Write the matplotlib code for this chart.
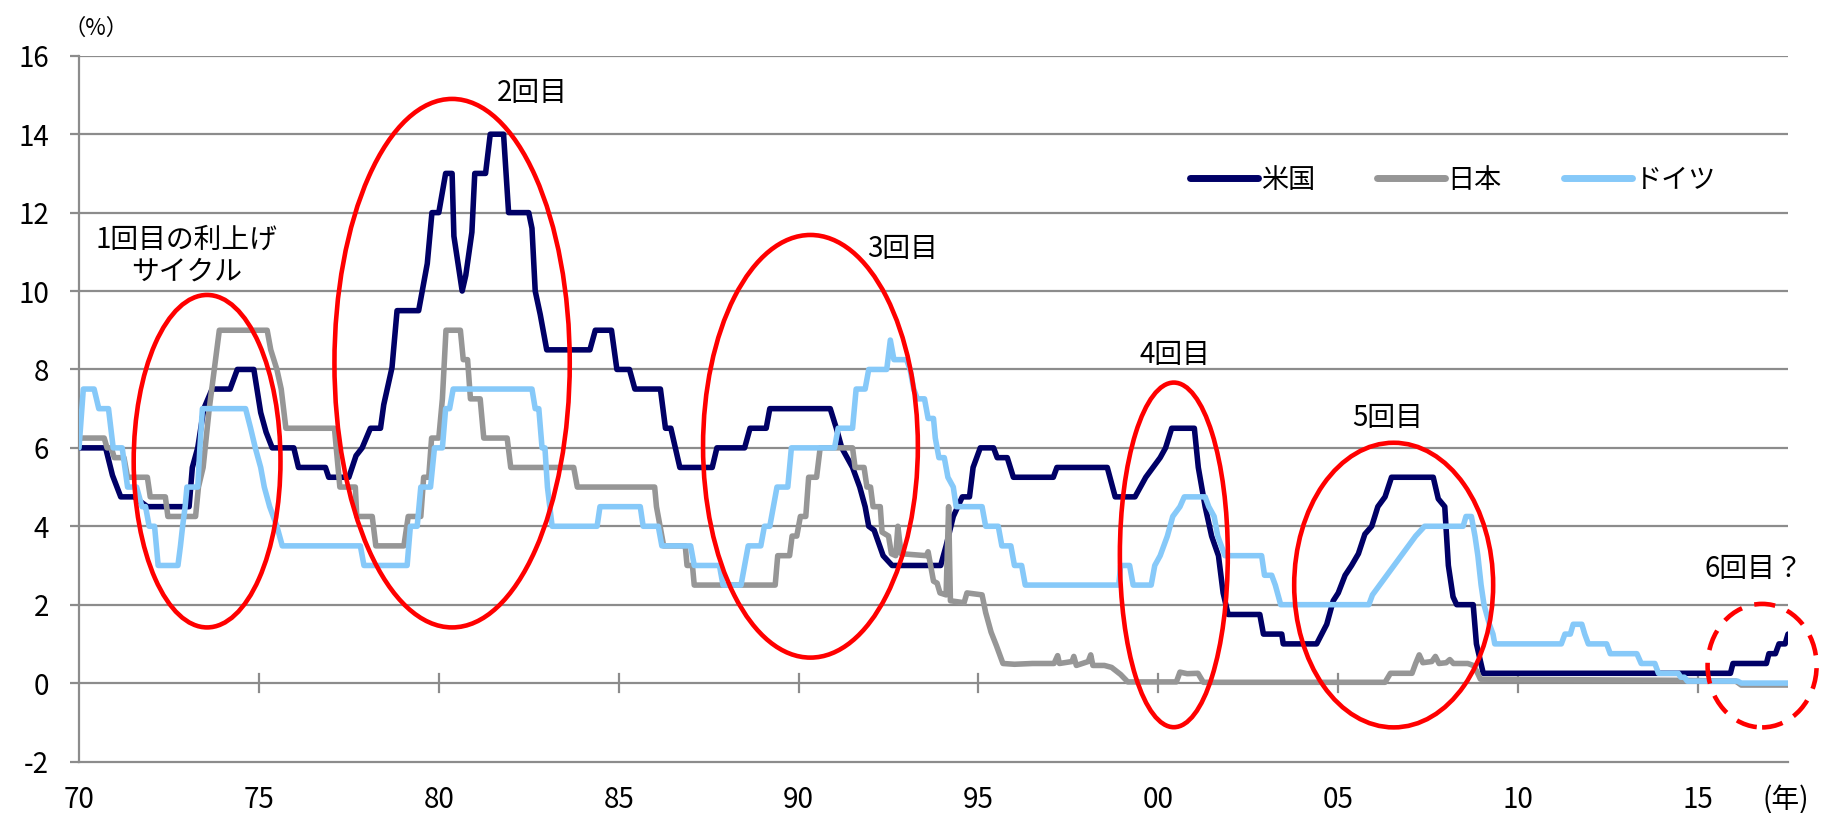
import matplotlib
matplotlib.use("Agg")
import matplotlib.pyplot as plt
from matplotlib.patches import Ellipse
from matplotlib.lines import Line2D

plt.rcParams["font.family"] = ["Noto Sans CJK JP", "DejaVu Sans"]

# policy rates (%), turning points of each series as (year, rate)
us_points = [
    (1970.00, 6.00), (1970.74, 6.00), (1970.93, 5.30), (1971.16, 4.75), (1971.53, 4.75),
    (1971.90, 4.50), (1973.06, 4.50), (1973.15, 5.50), (1973.30, 6.00), (1973.47, 7.00),
    (1973.70, 7.50), (1974.20, 7.50), (1974.40, 8.00), (1974.86, 8.00), (1975.05, 6.90),
    (1975.20, 6.40), (1975.37, 6.00), (1975.97, 6.00), (1976.10, 5.50), (1976.85, 5.50),
    (1976.94, 5.25), (1977.50, 5.25), (1977.70, 5.80), (1977.87, 6.00), (1978.10, 6.50),
    (1978.38, 6.50), (1978.47, 7.10), (1978.70, 8.05), (1978.84, 9.50), (1979.44, 9.50),
    (1979.68, 10.70), (1979.81, 12.00), (1980.00, 12.00), (1980.19, 13.00), (1980.37, 13.00),
    (1980.42, 11.40), (1980.65, 10.00), (1980.75, 10.40), (1980.92, 11.50), (1981.00, 13.00),
    (1981.30, 13.00), (1981.43, 14.00), (1981.80, 14.00), (1981.94, 12.00), (1982.50, 12.00),
    (1982.59, 11.60), (1982.68, 10.00), (1982.82, 9.40), (1983.00, 8.50), (1984.20, 8.50),
    (1984.35, 9.00), (1984.80, 9.00), (1984.95, 8.00), (1985.30, 8.00), (1985.45, 7.50),
    (1986.16, 7.50), (1986.30, 6.50), (1986.45, 6.50), (1986.70, 5.50), (1987.60, 5.50),
    (1987.73, 6.00), (1988.50, 6.00), (1988.65, 6.50), (1989.10, 6.50), (1989.20, 7.00),
    (1990.88, 7.00), (1991.05, 6.50), (1991.20, 6.00), (1991.35, 5.75), (1991.50, 5.50),
    (1991.70, 5.00), (1991.85, 4.50), (1991.95, 4.00), (1992.10, 3.90), (1992.35, 3.25),
    (1992.60, 3.00), (1993.95, 3.00), (1994.10, 3.50), (1994.30, 4.25), (1994.55, 4.75),
    (1994.75, 4.75), (1994.85, 5.50), (1995.05, 6.00), (1995.42, 6.00), (1995.52, 5.75),
    (1995.80, 5.75), (1995.97, 5.25), (1997.08, 5.25), (1997.18, 5.50), (1998.58, 5.50),
    (1998.80, 4.75), (1999.35, 4.75), (1999.50, 5.00), (1999.65, 5.25), (1999.85, 5.50),
    (2000.05, 5.75), (2000.20, 6.00), (2000.37, 6.50), (2001.00, 6.50), (2001.11, 5.50),
    (2001.30, 4.50), (2001.48, 3.75), (2001.67, 3.25), (2001.80, 2.30), (2001.94, 1.75),
    (2002.82, 1.75), (2002.92, 1.25), (2003.43, 1.25), (2003.47, 1.00), (2004.40, 1.00),
    (2004.54, 1.25), (2004.68, 1.50), (2004.86, 2.10), (2005.00, 2.30), (2005.19, 2.75),
    (2005.37, 3.00), (2005.56, 3.30), (2005.74, 3.80), (2005.93, 4.00), (2006.10, 4.50),
    (2006.30, 4.75), (2006.48, 5.25), (2007.64, 5.25), (2007.78, 4.70), (2007.96, 4.50),
    (2008.06, 3.00), (2008.19, 2.20), (2008.29, 2.00), (2008.75, 2.00), (2008.84, 1.00),
    (2009.03, 0.25), (2015.90, 0.25), (2015.97, 0.50), (2016.90, 0.50), (2016.97, 0.75),
    (2017.15, 0.75), (2017.25, 1.00), (2017.42, 1.00), (2017.50, 1.25),
]

jp_points = [
    (1970.00, 6.25), (1970.70, 6.25), (1970.78, 6.00), (1970.90, 6.00), (1970.98, 5.75),
    (1971.25, 5.75), (1971.35, 5.25), (1971.90, 5.25), (1971.98, 4.75), (1972.40, 4.75),
    (1972.47, 4.25), (1973.24, 4.25), (1973.32, 5.00), (1973.45, 5.50), (1973.62, 7.00),
    (1973.90, 9.00), (1975.23, 9.00), (1975.33, 8.50), (1975.50, 8.00), (1975.62, 7.50),
    (1975.75, 6.50), (1977.10, 6.50), (1977.25, 5.00), (1977.68, 5.00), (1977.72, 4.25),
    (1978.15, 4.25), (1978.25, 3.50), (1979.03, 3.50), (1979.15, 4.25), (1979.50, 4.25),
    (1979.58, 5.25), (1979.72, 5.25), (1979.80, 6.25), (1980.00, 6.25), (1980.10, 7.25),
    (1980.20, 9.00), (1980.60, 9.00), (1980.68, 8.25), (1980.80, 8.25), (1980.88, 7.25),
    (1981.15, 7.25), (1981.25, 6.25), (1981.90, 6.25), (1982.00, 5.50), (1983.75, 5.50),
    (1983.85, 5.00), (1986.00, 5.00), (1986.05, 4.50), (1986.15, 4.00), (1986.25, 3.50),
    (1986.85, 3.50), (1986.90, 3.00), (1987.05, 3.00), (1987.10, 2.50), (1989.35, 2.50),
    (1989.42, 3.25), (1989.75, 3.25), (1989.82, 3.75), (1989.95, 3.75), (1990.05, 4.25),
    (1990.20, 4.25), (1990.28, 5.25), (1990.50, 5.25), (1990.60, 6.00), (1991.50, 6.00),
    (1991.57, 5.50), (1991.82, 5.50), (1991.90, 5.00), (1992.00, 5.00), (1992.07, 4.50),
    (1992.27, 4.50), (1992.32, 3.85), (1992.50, 3.75), (1992.58, 3.30), (1992.70, 3.25),
    (1992.76, 4.00), (1992.85, 3.30), (1993.55, 3.25), (1993.60, 3.35), (1993.65, 3.10),
    (1993.75, 2.60), (1993.85, 2.55), (1993.93, 2.30), (1994.10, 2.25), (1994.17, 4.50),
    (1994.22, 2.10), (1994.60, 2.05), (1994.68, 2.30), (1995.10, 2.25), (1995.20, 1.80),
    (1995.35, 1.30), (1995.50, 0.95), (1995.68, 0.50), (1996.00, 0.48), (1996.50, 0.50),
    (1997.10, 0.50), (1997.20, 0.70), (1997.25, 0.50), (1997.60, 0.55), (1997.65, 0.68),
    (1997.72, 0.45), (1998.05, 0.55), (1998.12, 0.72), (1998.18, 0.45), (1998.50, 0.45),
    (1998.70, 0.40), (1998.95, 0.22), (1999.15, 0.03), (2000.50, 0.03), (2000.60, 0.28),
    (2000.80, 0.24), (2001.10, 0.25), (2001.25, 0.02), (2006.30, 0.02), (2006.45, 0.25),
    (2007.05, 0.25), (2007.15, 0.50), (2007.25, 0.72), (2007.35, 0.52), (2007.60, 0.55),
    (2007.70, 0.68), (2007.80, 0.50), (2008.00, 0.52), (2008.10, 0.60), (2008.20, 0.50),
    (2008.60, 0.50), (2008.75, 0.45), (2008.85, 0.30), (2008.95, 0.10), (2013.00, 0.08),
    (2014.50, 0.07), (2016.05, 0.05), (2016.20, -0.05), (2017.50, -0.05),
]

de_points = [
    (1970.00, 6.00), (1970.12, 7.50), (1970.42, 7.50), (1970.55, 7.00), (1970.82, 7.00),
    (1970.95, 6.00), (1971.20, 6.00), (1971.35, 5.00), (1971.60, 5.00), (1971.75, 4.50),
    (1971.85, 4.50), (1971.95, 4.00), (1972.10, 4.00), (1972.20, 3.00), (1972.75, 3.00),
    (1972.82, 3.50), (1972.88, 4.00), (1972.95, 4.50), (1973.00, 5.00), (1973.30, 5.00),
    (1973.36, 6.00), (1973.43, 7.00), (1974.63, 7.00), (1974.77, 6.50), (1974.90, 6.00),
    (1975.05, 5.50), (1975.15, 5.00), (1975.30, 4.50), (1975.50, 4.00), (1975.65, 3.50),
    (1977.82, 3.50), (1977.92, 3.00), (1979.12, 3.00), (1979.21, 4.00), (1979.40, 4.00),
    (1979.50, 5.00), (1979.77, 5.00), (1979.88, 6.00), (1980.10, 6.00), (1980.19, 7.00),
    (1980.30, 7.00), (1980.40, 7.50), (1982.59, 7.50), (1982.68, 7.00), (1982.78, 7.00),
    (1982.87, 6.00), (1982.95, 6.00), (1983.02, 5.00), (1983.15, 4.00), (1984.40, 4.00),
    (1984.48, 4.50), (1985.60, 4.50), (1985.68, 4.00), (1986.10, 4.00), (1986.20, 3.50),
    (1987.00, 3.50), (1987.10, 3.00), (1987.80, 3.00), (1987.90, 2.50), (1988.40, 2.50),
    (1988.50, 3.00), (1988.60, 3.50), (1988.95, 3.50), (1989.05, 4.00), (1989.20, 4.00),
    (1989.30, 4.50), (1989.40, 5.00), (1989.70, 5.00), (1989.80, 6.00), (1991.00, 6.00),
    (1991.10, 6.50), (1991.50, 6.50), (1991.60, 7.50), (1991.85, 7.50), (1991.95, 8.00),
    (1992.45, 8.00), (1992.55, 8.75), (1992.65, 8.25), (1993.00, 8.25), (1993.10, 8.00),
    (1993.20, 7.50), (1993.30, 7.25), (1993.50, 7.25), (1993.60, 6.75), (1993.75, 6.75),
    (1993.80, 6.25), (1993.90, 5.75), (1994.05, 5.75), (1994.15, 5.25), (1994.30, 5.00),
    (1994.38, 4.50), (1995.10, 4.50), (1995.20, 4.00), (1995.55, 4.00), (1995.65, 3.50),
    (1995.90, 3.50), (1996.00, 3.00), (1996.20, 3.00), (1996.30, 2.50), (1998.90, 2.50),
    (1998.95, 3.00), (1999.20, 3.00), (1999.30, 2.50), (1999.80, 2.50), (1999.90, 3.00),
    (2000.05, 3.25), (2000.15, 3.50), (2000.25, 3.75), (2000.40, 4.25), (2000.60, 4.50),
    (2000.72, 4.75), (2001.30, 4.75), (2001.40, 4.50), (2001.55, 4.25), (2001.65, 3.75),
    (2001.85, 3.25), (2002.87, 3.25), (2002.95, 2.75), (2003.15, 2.75), (2003.25, 2.50),
    (2003.40, 2.00), (2005.85, 2.00), (2005.95, 2.25), (2006.15, 2.50), (2006.35, 2.75),
    (2006.55, 3.00), (2006.75, 3.25), (2006.95, 3.50), (2007.15, 3.75), (2007.40, 4.00),
    (2008.47, 4.00), (2008.55, 4.25), (2008.70, 4.25), (2008.80, 3.75), (2008.88, 3.25),
    (2008.97, 2.50), (2009.05, 2.00), (2009.20, 1.50), (2009.30, 1.25), (2009.35, 1.00),
    (2011.20, 1.00), (2011.30, 1.25), (2011.45, 1.25), (2011.53, 1.50), (2011.77, 1.50),
    (2011.85, 1.25), (2011.95, 1.00), (2012.46, 1.00), (2012.56, 0.75), (2013.30, 0.75),
    (2013.42, 0.50), (2013.80, 0.50), (2013.90, 0.25), (2014.45, 0.25), (2014.52, 0.15),
    (2014.62, 0.15), (2014.70, 0.05), (2016.10, 0.05), (2016.20, 0.00), (2017.50, 0.00),
]

series_names = ["米国", "日本", "ドイツ"]
series_colors = ["#000066", "#969696", "#86C9F9"]

x_ticks = [1970, 1975, 1980, 1985, 1990, 1995, 2000, 2005, 2010, 2015]
y_ticks = [-2, 0, 2, 4, 6, 8, 10, 12, 14, 16]

# rate-hike cycles: label, label position, ellipse centre / width / height
cycle_labels = ["1回目の利上げ\nサイクル", "2回目", "3回目", "4回目", "5回目", "6回目？"]
label_pos = [(1973.0, 10.9), (1982.6, 15.05), (1992.9, 11.07),
             (2000.45, 8.38), (2006.37, 6.77), (2016.55, 2.91)]
ellipse_xy = [(1973.56, 5.66), (1980.37, 8.16), (1990.33, 6.04),
              (2000.43, 3.27), (2006.54, 2.50), (2016.78, 0.445)]
ellipse_wh = [(4.08, 8.48), (6.54, 13.48), (5.97, 10.78),
              (3.00, 8.79), (5.53, 7.26), (3.03, 3.15)]

grid_color = "#8C8C8C"

fig = plt.figure(figsize=(18.23, 8.13), dpi=100)
ax = fig.add_axes([79 / 1823, 1 - 761.5 / 813, (1788 - 79) / 1823, (761.5 - 55.8) / 813])
ax.set_xlim(1970, 2017.5)
ax.set_ylim(-2, 16)

# horizontal gridlines
for y in y_ticks[1:]:
    ax.axhline(y, color=grid_color, lw=1.6, zorder=1)
# zero line with crossing tick marks
for x in x_ticks[1:]:
    ax.plot([x, x], [-0.23, 0.23], color=grid_color, lw=1.6, zorder=1)

for sp in ["top", "right"]:
    ax.spines[sp].set_visible(False)
for sp in ["left", "bottom"]:
    ax.spines[sp].set_color(grid_color)
    ax.spines[sp].set_linewidth(1.6)

ax.set_yticks(y_ticks)
ax.set_yticklabels([str(v) for v in y_ticks])
ax.set_xticks(x_ticks)
ax.set_xticklabels(["%02d" % (x % 100) for x in x_ticks])
ax.tick_params(axis="y", direction="out", length=6.5, width=1.6, color=grid_color,
               pad=15, labelsize=20)
ax.tick_params(axis="x", length=0, pad=17, labelsize=20)
for lab in ax.get_xticklabels() + ax.get_yticklabels():
    lab.set_family(["Liberation Sans Narrow", "Noto Sans CJK JP"])

handles = []
for pts, name, color in zip([us_points, jp_points, de_points], series_names, series_colors):
    years, rates = zip(*pts)
    ax.plot(years, rates, color=color, lw=4.0, solid_joinstyle="round",
            solid_capstyle="round", zorder=3)
    handles.append(Line2D([], [], color=color, lw=5.0, solid_capstyle="round"))

# circles around each tightening cycle
for i, ((cx, cy), (w, h)) in enumerate(zip(ellipse_xy, ellipse_wh)):
    last = i == len(ellipse_xy) - 1
    e = Ellipse((cx, cy), w, h, fill=False, edgecolor="#FF0000", lw=3.3,
                linestyle=(0, (4.6, 2.8)) if last else "-", zorder=4, clip_on=False)
    ax.add_patch(e)

for text, (tx, ty) in zip(cycle_labels, label_pos):
    ax.text(tx, ty, text, ha="center", va="center", fontsize=20, linespacing=1.05,
            zorder=5)

ax.legend(handles, series_names, ncol=3, loc="center", bbox_to_anchor=(0.804, 0.824),
          frameon=False, fontsize=19.5, handlelength=2.5, handletextpad=0.1,
          columnspacing=2.3)

fig.text(96 / 1823, 1 - 28 / 813, "（%）", ha="center", va="center", fontsize=16)
fig.text(1786 / 1823, 1 - 800 / 813, "(年)", ha="center", va="center", fontsize=20)

fig.savefig("out.png", dpi=100)
